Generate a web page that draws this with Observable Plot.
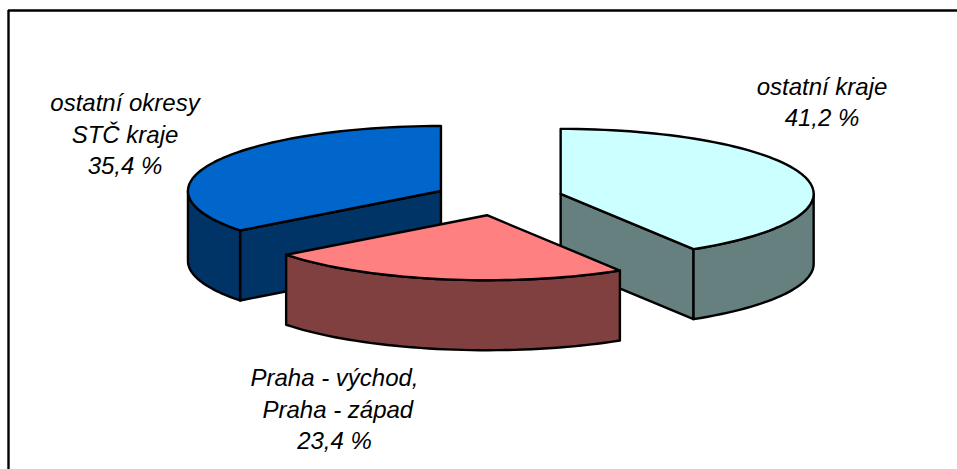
<!DOCTYPE html>
<html>
<head>
<meta charset="utf-8">
<style>html,body{margin:0;padding:0;background:#fff}svg{display:block}</style>
<script src="https://cdn.jsdelivr.net/npm/d3@7"></script>
<script src="https://cdn.jsdelivr.net/npm/@observablehq/plot@0.6"></script>
</head>
<body>
<script>
// Data, clockwise from 12 o'clock
const categories = ["ostatní kraje", "Praha - východ,\n Praha - západ", "ostatní okresy\nSTČ kraje"];
const shares = [41.2, 23.4, 35.4];
const topColors = ["#CCFFFF", "#FF8080", "#0066CC"];
const wallColors = ["#668080", "#804040", "#003366"];
const labelX = [821.5, 334, 124.5];
const labelY = [100, 407, 132];

// Pie geometry
const W = 957, H = 469;
const centre = {x: 498.2, y: 198};
const radius = {x: 253, y: 65};
const explode = {x: 64.4, y: 17};
const depth = 70;
const deg = Math.PI / 180;

const total = d3.sum(shares);
let acc = 0;
const slices = shares.map((v, i) => {
  const a0 = acc / total * 360; acc += v; const a1 = acc / total * 360;
  const m = (a0 + a1) / 2 * deg;
  return {i, a0, a1,
    ax: centre.x + explode.x * Math.sin(m),
    ay: centre.y - explode.y * Math.cos(m)};
});
const pt = (s, a, dz = 0) => ({
  x: s.ax + radius.x * Math.sin(a * deg),
  y: s.ay - radius.y * Math.cos(a * deg) + dz
});
const arc = (s, a, b, dz = 0) => {
  const n = Math.max(2, Math.ceil(Math.abs(b - a) / 2));
  return d3.range(n + 1).map(k => pt(s, a + (b - a) * k / n, dz));
};

// Back-to-front drawing order: left slice, right slice, front slice
const order = [2, 0, 1];
const polygons = [];
for (const idx of order) {
  const s = slices[idx];
  const apex = {x: s.ax, y: s.ay}, apexLow = {x: s.ax, y: s.ay + depth};
  const wall = wallColors[idx];
  if (Math.sin(s.a0 * deg) < -1e-6) polygons.push({fill: wall, points: [apex, pt(s, s.a0), pt(s, s.a0, depth), apexLow]});
  if (Math.sin(s.a1 * deg) > 1e-6) polygons.push({fill: wall, points: [apex, pt(s, s.a1), pt(s, s.a1, depth), apexLow]});
  const f0 = Math.max(s.a0, 90), f1 = Math.min(s.a1, 270);
  if (f1 > f0) polygons.push({fill: wall, points: [...arc(s, f0, f1), ...arc(s, f1, f0, depth)]});
  polygons.push({fill: topColors[idx], points: [apex, ...arc(s, s.a0, s.a1)]});
}

const labels = categories.map((c, i) => ({
  text: `${c}\n${shares[i].toFixed(1).replace(".", ",")} %`,
  x: labelX[i], y: labelY[i]
}));

const chart = Plot.plot({
  width: W, height: H,
  margin: 0,
  x: {domain: [0, W], range: [0, W], axis: null},
  y: {domain: [0, H], range: [0, H], axis: null},
  marks: [
    Plot.ruleY([10], {x1: 8, x2: W, stroke: "#000", strokeWidth: 2.4}),
    Plot.ruleX([8], {y1: 10, y2: H, stroke: "#000", strokeWidth: 2.4}),
    ...polygons.map(p => Plot.line(p.points, {
      x: "x", y: "y", fill: p.fill, stroke: "#000", strokeWidth: 2.4,
      curve: "linear-closed", strokeLinejoin: "round"
    })),
    Plot.text(labels, {
      x: "x", y: "y", text: "text", fill: "#000",
      fontFamily: "Liberation Sans", fontStyle: "italic", fontSize: 24,
      lineHeight: 1.32, textAnchor: "middle"
    })
  ]
});
document.body.appendChild(chart);
</script>
</body>
</html>
